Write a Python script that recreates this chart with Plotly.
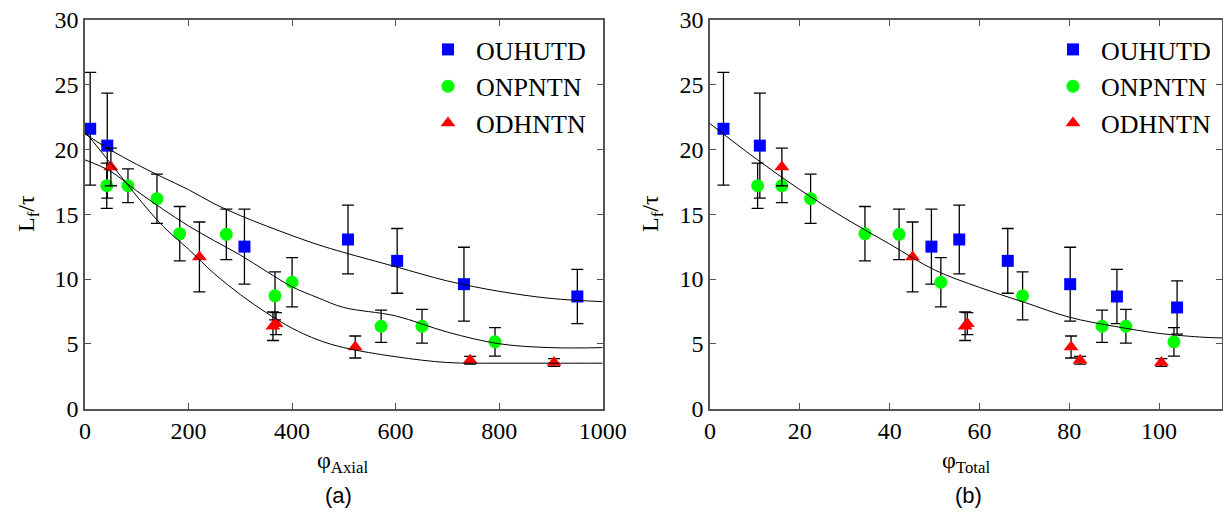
import plotly.graph_objects as go

# ---- measured points (same runs plotted against two abscissae) ----
# OUHUTD
ouh_x_axial = [10, 43, 308, 508, 603, 732, 951]
ouh_y_axial = [21.6, 20.3, 12.5, 13.05, 11.4, 9.6, 8.65]
ouh_err_axial = [4.35, 4.05, 2.9, 2.65, 2.5, 2.85, 2.1]

ouh_x_total = [3.0, 11.1, 49.3, 55.5, 66.3, 80.2, 90.6, 104.0]
ouh_y_total = [21.6, 20.3, 12.5, 13.05, 11.4, 9.6, 8.65, 7.8]
ouh_err_total = [4.35, 4.05, 2.9, 2.65, 2.5, 2.85, 2.1, 2.05]

# ONPNTN
onp_y = [17.2, 17.2, 16.2, 13.5, 13.45, 8.7, 9.75, 6.35, 6.35, 5.15]
onp_err = [1.75, 1.3, 1.9, 2.1, 1.95, 1.85, 1.9, 1.25, 1.3, 1.1]
onp_x_axial = [42, 83, 139, 183, 273, 367, 400, 572, 651, 792]
onp_x_total = [10.6, 16.0, 22.4, 34.5, 42.1, 69.6, 51.4, 87.3, 92.6, 103.3]

# ODHNTN
odh_y = [18.65, 11.7, 6.35, 6.55, 4.75, 3.72, 3.55]
odh_err = [1.45, 2.7, 1.1, 0.85, 0.85, 0.3, 0.3]
odh_x_axial = [50, 221, 363, 369, 522, 744, 906]
odh_x_total = [16.0, 45.1, 56.8, 57.3, 80.4, 82.4, 100.5]

# ---- fitted trend curves ----
fit_x_axial = [0, 50, 100, 150, 200, 250, 300, 350, 400, 450, 500, 600, 700, 800, 900, 1000]
fit_ouh_axial = [21.2, 19.95, 18.85, 17.85, 16.9, 15.8, 14.9, 14.1, 13.35, 12.65, 12.05,
                 10.95, 9.85, 9.05, 8.5, 8.25]
fit_onp_axial = [19.2, 18.3, 16.8, 15.4, 14.1, 12.95, 11.85, 10.6, 9.4, 8.55, 7.8,
                 7.15, 5.9, 5.0, 4.7, 4.7]
fit_odh_axial = [21.4, 18.9, 16.4, 14.1, 12.3, 10.4, 8.8, 7.4, 6.2, 5.3, 4.7,
                 4.0, 3.55, 3.5, 3.5, 3.5]

fit_x_total = [0, 10, 20, 30, 40, 50, 60, 70, 80, 90, 100, 110, 114]
fit_y_total = [22.0, 19.35, 16.9, 14.7, 12.7, 10.7, 9.35, 8.2, 7.05, 6.35, 5.8, 5.5, 5.45]

x_ticks_axial = [0, 200, 400, 600, 800, 1000]
x_ticks_total = [0, 20, 40, 60, 80, 100]
y_ticks = [0, 5, 10, 15, 20, 25, 30]

W, H = 1223, 514
SERIF = "Liberation Serif, Times New Roman, Times, DejaVu Serif, serif"
SANS = "Liberation Sans, Arial, sans-serif"
AXC = "#555555"

BLUE, GREEN, RED = "#0000FF", "#00FF00", "#FF0000"

series = [
    ("OUHUTD", BLUE, "square", 12),
    ("ONPNTN", GREEN, "circle", 13),
    ("ODHNTN", RED, "triangle-up", 13),
]

fig = go.Figure()


def add_points(x, y, err, name, color, symbol, size, xa, ya, legend):
    fig.add_trace(go.Scatter(
        x=x, y=y, mode="markers", name=name,
        marker=dict(color=color, symbol=symbol, size=size, line=dict(width=0)),
        error_y=dict(type="data", array=err, visible=True, color="black",
                     thickness=1.3, width=6),
        xaxis=xa, yaxis=ya, legend=legend, cliponaxis=False,
    ))


def add_fit(x, y, xa, ya):
    fig.add_trace(go.Scatter(
        x=x, y=y, mode="lines", line=dict(color="black", width=1, shape="spline"),
        showlegend=False, hoverinfo="skip", xaxis=xa, yaxis=ya,
    ))


# panel (a)
add_points(ouh_x_axial, ouh_y_axial, ouh_err_axial, *series[0], "x", "y", "legend")
add_points(onp_x_axial, onp_y, onp_err, *series[1], "x", "y", "legend")
add_points(odh_x_axial, odh_y, odh_err, *series[2], "x", "y", "legend")
add_fit(fit_x_axial, fit_ouh_axial, "x", "y")
add_fit(fit_x_axial, fit_onp_axial, "x", "y")
add_fit(fit_x_axial, fit_odh_axial, "x", "y")

# panel (b)
add_points(ouh_x_total, ouh_y_total, ouh_err_total, *series[0], "x2", "y2", "legend2")
add_points(onp_x_total, onp_y, onp_err, *series[1], "x2", "y2", "legend2")
add_points(odh_x_total, odh_y, odh_err, *series[2], "x2", "y2", "legend2")
add_fit(fit_x_total, fit_y_total, "x2", "y2")


def px_x(p):
    return p / W


def px_y(p):
    return (H - p) / H


axis_common = dict(
    showline=True, linecolor=AXC, linewidth=1.5, mirror="ticks",
    ticks="inside", ticklen=6, tickwidth=1.2, tickcolor=AXC,
    showgrid=False, zeroline=False, automargin=False,
    tickfont=dict(family=SERIF, size=24, color="black"),
)

ydom = [px_y(408.5), px_y(20)]
legend_font = dict(family=SERIF, size=26, color="black")

fig.update_layout(
    width=W, height=H, autosize=False,
    margin=dict(l=0, r=0, t=0, b=0, pad=0, autoexpand=False),
    paper_bgcolor="white", plot_bgcolor="white",
    font=dict(family=SERIF, color="black"),
    xaxis=dict(domain=[px_x(85), px_x(602.7)], range=[0, 1000],
               tickvals=x_ticks_axial, anchor="y", **axis_common),
    yaxis=dict(domain=ydom, range=[0, 30], tickvals=y_ticks, anchor="x", **axis_common),
    xaxis2=dict(domain=[px_x(710), px_x(1222)], range=[0, 114],
                tickvals=x_ticks_total, anchor="y2", **axis_common),
    yaxis2=dict(domain=ydom, range=[0, 30], tickvals=y_ticks, anchor="x2", **axis_common),
    legend=dict(x=px_x(420), y=px_y(26), xanchor="left", yanchor="top",
                font=legend_font, bgcolor="rgba(0,0,0,0)", itemwidth=46),
    legend2=dict(x=px_x(1045), y=px_y(26), xanchor="left", yanchor="top",
                 font=legend_font, bgcolor="rgba(0,0,0,0)", itemwidth=46),
    showlegend=True,
)

annots = [
    dict(text="L<sub>f</sub>/τ", x=px_x(28), y=px_y(214), textangle=-90,
         font=dict(family=SERIF, size=24, color="black")),
    dict(text="L<sub>f</sub>/τ", x=px_x(652), y=px_y(214), textangle=-90,
         font=dict(family=SERIF, size=24, color="black")),
    dict(text="φ<sub>Axial</sub>", x=px_x(342), y=px_y(462),
         font=dict(family=SERIF, size=24, color="black")),
    dict(text="φ<sub>Total</sub>", x=px_x(966), y=px_y(462),
         font=dict(family=SERIF, size=24, color="black")),
    dict(text="(a)", x=px_x(338), y=px_y(495),
         font=dict(family=SANS, size=22, color="black")),
    dict(text="(b)", x=px_x(968), y=px_y(495),
         font=dict(family=SANS, size=22, color="black")),
]
for a in annots:
    fig.add_annotation(xref="paper", yref="paper", showarrow=False,
                       xanchor="center", yanchor="middle", **a)

fig.write_html("out.html")
